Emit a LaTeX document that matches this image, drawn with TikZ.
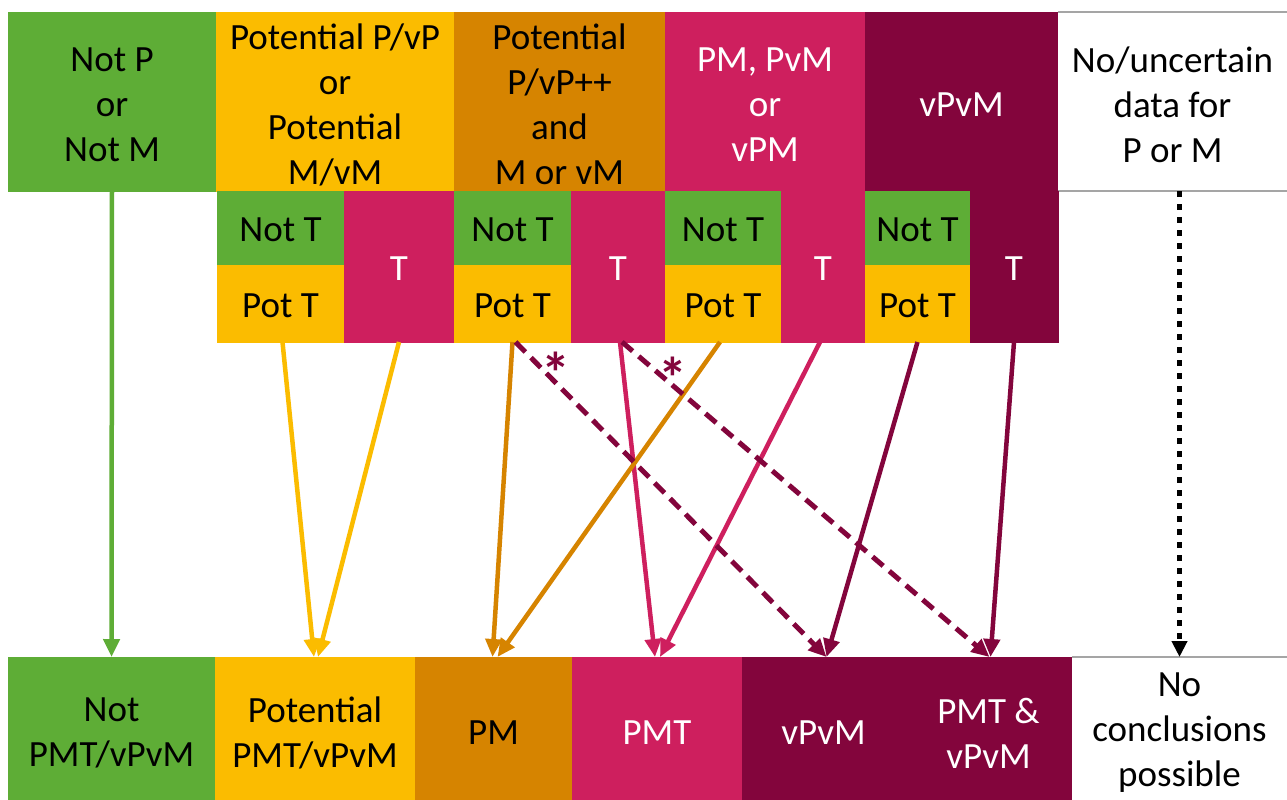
\documentclass[tikz,border=0pt]{standalone}
\usepackage{fontspec}
\setmainfont{Carlito}
\usetikzlibrary{arrows.meta,calc}
\definecolor{cgreen}{RGB}{94,173,54}
\definecolor{cyellow}{RGB}{251,188,0}
\definecolor{corange}{RGB}{214,132,0}
\definecolor{cpink}{RGB}{206,31,94}
\definecolor{cmaroon}{RGB}{131,5,60}
\definecolor{cborder}{RGB}{165,165,165}
% \cell{fill}{text colour}{name}{cx}{cy}{width}{height}{text}
\newcommand\tshift{-3pt}
\newcommand\cell[8]{%
  \node[box, fill=#1, draw=#1, minimum width=#6pt, minimum height=#7pt] (#3) at (#4,#5) {};
  \node[txt, text=#2] (#3-t) at ([yshift=\tshift]#3.center) {#8};}
\begin{document}
\begin{tikzpicture}[x=1pt,y=-1pt,
  box/.style={inner sep=0pt, outer sep=0pt, line width=0.5pt},
  txt/.style={inner sep=0pt, outer sep=0pt, align=center,
    font=\fontsize{37}{45}\selectfont},
  arr/.style={line width=4.5pt, -{Triangle[length=18pt,width=16pt]}},
  darr/.style={line width=5pt, cmaroon, dash pattern=on 14pt off 8pt,
    -{Triangle[length=18pt,width=16pt]}},
  dotarr/.style={line width=5.5pt, black, dash pattern=on 5.5pt off 7.5pt,
    -{Triangle[length=16pt,width=15pt]}},
  starlbl/.style={inner sep=0pt, anchor=base, text=cmaroon,
    font=\fontsize{58}{60}\selectfont\bfseries}
]
\clip (0,0) rectangle (1287,800);
\fill[white] (0,0) rectangle (1287,800);

% top row: input classes
\renewcommand\tshift{-3pt}
\cell{cgreen}{black}{notPM}{112}{101.5}{208}{179}{Not P\\or\\Not M}
\cell{cyellow}{black}{potPM}{335}{101.5}{238}{179}{Potential P/vP\\or\\Potential\\M/vM}
\cell{corange}{black}{potPpp}{559.5}{101.5}{211}{179}{Potential\\P/vP++\\and\\M or vM}
\cell{cpink}{white}{pmTop}{765}{101.5}{200}{179}{PM, PvM\\or\\vPM}
\cell{cmaroon}{white}{vpvmTop}{961.5}{101.5}{193}{179}{vPvM}
\cell{white}{black}{noData}{1172.5}{101.5}{229}{179}{No/uncertain\\data for\\P or M}
\draw[cborder, line width=1.5pt] (noData.north west) -- (noData.north east)
  (noData.south west) -- (noData.south east);

% middle row: T sub-classes
\renewcommand\tshift{-2pt}
\cell{cgreen}{black}{notT1}{280.5}{228}{127}{74}{Not T}
\cell{cyellow}{black}{potT1}{280.5}{303.5}{127}{77}{Pot T}
\cell{cpink}{white}{t1}{399}{266.5}{110}{151}{T}

\cell{cgreen}{black}{notT2}{512.5}{228}{117}{74}{Not T}
\cell{cyellow}{black}{potT2}{512.5}{303.5}{117}{77}{Pot T}
\cell{cpink}{white}{t2}{618}{266.5}{94}{151}{T}

\cell{cgreen}{black}{notT3}{723}{228}{116}{74}{Not T}
\cell{cyellow}{black}{potT3}{723}{303.5}{116}{77}{Pot T}
\cell{cpink}{white}{t3}{823}{266.5}{84}{151}{T}

\cell{cgreen}{black}{notT4}{917.5}{228}{105}{74}{Not T}
\cell{cyellow}{black}{potT4}{917.5}{303.5}{105}{77}{Pot T}
\cell{cmaroon}{white}{t4}{1014}{266.5}{88}{151}{T}

% bottom row: conclusions
\renewcommand\tshift{-4.5pt}
\cell{cgreen}{black}{outNot}{111.5}{728.5}{207}{143}{Not\\PMT/vPvM}
\cell{cyellow}{black}{outPot}{315}{728.5}{200}{143}{Potential\\PMT/vPvM}
\cell{corange}{black}{outPM}{493.5}{728.5}{157}{143}{PM}
\cell{cpink}{white}{outPMT}{657}{728.5}{170}{143}{PMT}
\cell{cmaroon}{white}{outV}{823.5}{728.5}{163}{143}{vPvM}
\cell{cmaroon}{white}{outBoth}{988.5}{728.5}{167}{143}{PMT \&\\vPvM}
\cell{white}{black}{outNone}{1179.5}{728.5}{215}{143}{No\\conclusions\\possible}
\draw[cborder, line width=1.5pt] (outNone.north west) -- (outNone.north east);

% connectors
\draw[arr, cgreen] (notPM.south) -- (outNot.north);
\draw[arr, cyellow] ($(potT1.south)+(2,0)$) -- ($(outPot.north)+(-1,0)$);
\draw[arr, cyellow] (t1.south) -- ($(outPot.north)+(3,0)$);
\draw[arr, cpink] ($(t2.south)+(2,0)$) -- ($(outPMT.north)+(-2,0)$);
\draw[arr, cpink] ($(t3.south)+(-3,0)$) -- ($(outPMT.north)+(3,0)$);
\draw[arr, corange] (potT2.south) -- ($(outPM.north)+(-1,0)$);
\draw[arr, corange] ($(potT3.south)+(-3,0)$) -- ($(outPM.north)+(4,0)$);
\draw[arr, cmaroon] (potT4.south) -- ($(outV.north)+(3,0)$);
\draw[arr, cmaroon] (t4.south) -- ($(outBoth.north)+(2,0)$);
\draw[darr] ($(potT2.south)+(3,0)$) -- ($(outV.north)+(3,0)$);
\draw[darr] ($(t2.south)+(4,0)$) -- ($(outBoth.north)+(1,0)$);
\draw[dotarr] (noData.south -| outNone.north) -- (outNone.north);

% asterisks marking the dashed connectors
\node[starlbl] (star1) at (556,393) {*};
\node[starlbl] (star2) at (673,398) {*};
\end{tikzpicture}
\end{document}
